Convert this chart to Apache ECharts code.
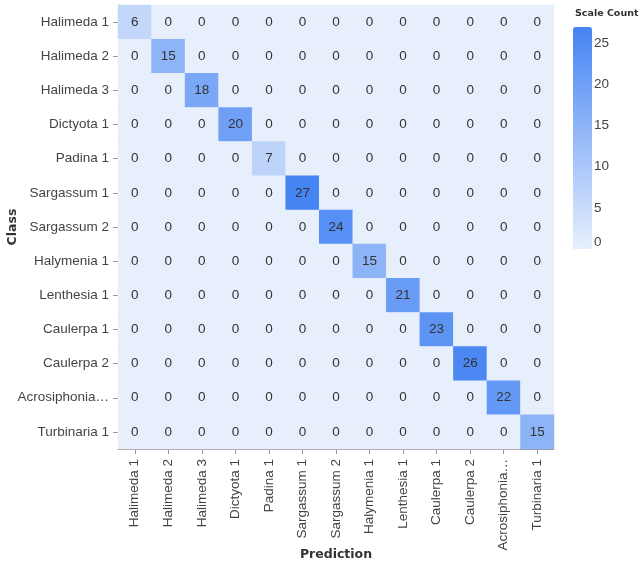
<!DOCTYPE html>
<html>
<head>
<meta charset="utf-8">
<script src="https://cdn.jsdelivr.net/npm/echarts@6/dist/echarts.min.js"></script>
<style>
  html, body { margin: 0; padding: 0; background: #ffffff; }
  #chart { width: 640px; height: 563px; }
</style>
</head>
<body>
<div id="chart"></div>
<script>
// Class labels, shared by the true-class and predicted-class axes
const classes = [
  'Halimeda 1', 'Halimeda 2', 'Halimeda 3', 'Dictyota 1', 'Padina 1',
  'Sargassum 1', 'Sargassum 2', 'Halymenia 1', 'Lenthesia 1', 'Caulerpa 1',
  'Caulerpa 2', 'Acrosiphonia…', 'Turbinaria 1'
];

// Confusion matrix: one row per true class, one column per prediction
const counts = [
  [6, 0, 0, 0, 0, 0, 0, 0, 0, 0, 0, 0, 0],
  [0, 15, 0, 0, 0, 0, 0, 0, 0, 0, 0, 0, 0],
  [0, 0, 18, 0, 0, 0, 0, 0, 0, 0, 0, 0, 0],
  [0, 0, 0, 20, 0, 0, 0, 0, 0, 0, 0, 0, 0],
  [0, 0, 0, 0, 7, 0, 0, 0, 0, 0, 0, 0, 0],
  [0, 0, 0, 0, 0, 27, 0, 0, 0, 0, 0, 0, 0],
  [0, 0, 0, 0, 0, 0, 24, 0, 0, 0, 0, 0, 0],
  [0, 0, 0, 0, 0, 0, 0, 15, 0, 0, 0, 0, 0],
  [0, 0, 0, 0, 0, 0, 0, 0, 21, 0, 0, 0, 0],
  [0, 0, 0, 0, 0, 0, 0, 0, 0, 23, 0, 0, 0],
  [0, 0, 0, 0, 0, 0, 0, 0, 0, 0, 26, 0, 0],
  [0, 0, 0, 0, 0, 0, 0, 0, 0, 0, 0, 22, 0],
  [0, 0, 0, 0, 0, 0, 0, 0, 0, 0, 0, 0, 15]
];

// Colour scale domain and legend ticks
const scaleMin = 0;
const scaleMax = 27;
const legendStep = 5;

const cells = [];
counts.forEach((row, r) => {
  row.forEach((v, c) => cells.push([c, r, v]));
});

const labelFont = '"Liberation Sans", Arial, sans-serif';
const titleFont = '"DejaVu Sans", sans-serif';

const chart = echarts.init(document.getElementById('chart'), null, { renderer: 'canvas' });

chart.setOption({
  animation: false,
  backgroundColor: '#ffffff',
  title: {
    text: 'Scale Count',
    left: 575,
    top: 9,
    padding: 0,
    textStyle: { fontFamily: titleFont, fontSize: 9.5, fontWeight: 'bold', color: '#333333' }
  },
  grid: [
    { left: 118, right: 86, top: 5, bottom: 114, outerBoundsMode: 'none', containLabel: false },
    { left: 573, top: 27, width: 19, height: 222, outerBoundsMode: 'none', containLabel: false }
  ],
  xAxis: [
    {
      type: 'category',
      data: classes,
      gridIndex: 0,
      position: 'bottom',
      name: 'Prediction',
      nameLocation: 'middle',
      nameGap: 99,
      nameMoveOverlap: false,
      nameTextStyle: { fontFamily: titleFont, fontSize: 12.5, fontWeight: 'bold', color: '#333333' },
      axisLine: { show: true, lineStyle: { color: '#999999', width: 1 } },
      axisTick: { show: true, alignWithLabel: true, length: 5, lineStyle: { color: '#999999' } },
      axisLabel: { rotate: 90, margin: 10, fontFamily: labelFont, fontSize: 13.5, color: '#444444', interval: 0 },
      splitLine: { show: false }
    },
    {
      type: 'value',
      gridIndex: 1,
      show: false
    }
  ],
  yAxis: [
    {
      type: 'category',
      data: classes,
      gridIndex: 0,
      inverse: true,
      name: 'Class',
      nameLocation: 'middle',
      nameGap: 99,
      nameRotate: 90,
      nameMoveOverlap: false,
      nameTextStyle: { fontFamily: titleFont, fontSize: 12.5, fontWeight: 'bold', color: '#333333' },
      axisLine: { show: true, lineStyle: { color: '#999999', width: 1 } },
      axisTick: { show: true, alignWithLabel: true, length: 5, lineStyle: { color: '#999999' } },
      axisLabel: { margin: 9, fontFamily: labelFont, fontSize: 13.5, color: '#444444', interval: 0 },
      splitLine: { show: false }
    },
    {
      // tick scale beside the colour ramp
      type: 'value',
      gridIndex: 1,
      position: 'right',
      min: scaleMin,
      max: scaleMax,
      interval: legendStep,
      axisLine: { show: false },
      axisTick: { show: false },
      splitLine: { show: false },
      axisLabel: {
        margin: 2,
        fontFamily: labelFont,
        fontSize: 13.5,
        color: '#444444',
        showMaxLabel: false,
        verticalAlignMinLabel: 'bottom'
      }
    }
  ],
  visualMap: {
    type: 'continuous',
    min: scaleMin,
    max: scaleMax,
    seriesIndex: 0,
    calculable: false,
    left: 573,
    top: 27,
    padding: 0,
    itemWidth: 19,
    itemHeight: 222,
    text: null,
    showLabel: false,
    inRange: { color: ['#e7effd', '#4584f3'] }
  },
  series: [
    {
      type: 'heatmap',
      xAxisIndex: 0,
      yAxisIndex: 0,
      data: cells,
      label: {
        show: true,
        fontFamily: labelFont,
        fontSize: 13.5,
        color: '#333333'
      },
      itemStyle: { borderWidth: 0 },
      emphasis: { disabled: true }
    }
  ]
});
</script>
</body>
</html>
